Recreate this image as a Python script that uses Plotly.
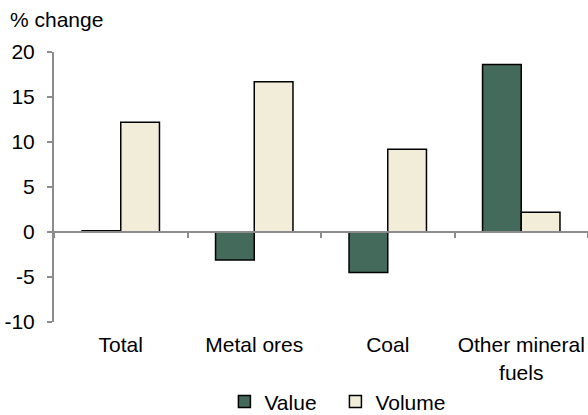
import plotly.graph_objects as go

categories = ["Total", "Metal ores", "Coal", "Other mineral<br>fuels"]
value = [0.15, -3.1, -4.5, 18.6]
volume = [12.2, 16.7, 9.2, 2.2]
y_ticks = [-10, -5, 0, 5, 10, 15, 20]
y_tick_text = ["-10", "-5", "0", "5", "10", "15", "20"]

FONT = dict(family="Liberation Sans, Arial, sans-serif", size=21, color="#000000")
AXIS_GREY = "#8c8c8c"

fig = go.Figure()
fig.add_trace(go.Bar(name="Value", x=categories, y=value,
                     marker=dict(color="#436a5a", line=dict(color="#000000", width=1.5))))
fig.add_trace(go.Bar(name="Volume", x=categories, y=volume,
                     marker=dict(color="#f2edd8", line=dict(color="#000000", width=1.5))))

fig.update_layout(
    width=588, height=415,
    margin=dict(l=54, r=0, t=52, b=93, autoexpand=False),
    paper_bgcolor="white", plot_bgcolor="white",
    font=FONT,
    barmode="group", bargap=0.42, bargroupgap=0,
    showlegend=True,
    legend=dict(orientation="h", x=0.527, xanchor="center", y=-0.296, yanchor="middle",
                font=FONT, itemwidth=30, tracegroupgap=0, entrywidth=66),
    xaxis=dict(type="category", anchor="free", position=1/3, automargin=False,
               showline=True, linecolor=AXIS_GREY, linewidth=2,
               ticks="outside", tickson="boundaries", ticklen=5, tickcolor=AXIS_GREY, tickwidth=2,
               showgrid=False, zeroline=False, ticklabelstandoff=94, tickangle=0,
               tickfont=FONT),
    yaxis=dict(range=[-10, 20], tickvals=y_ticks, ticktext=y_tick_text, automargin=False,
               showline=True, linecolor=AXIS_GREY, linewidth=2,
               ticks="outside", ticklen=5, tickcolor=AXIS_GREY, tickwidth=2,
               ticklabelstandoff=8,
               showgrid=False, zeroline=False, tickfont=FONT),
    annotations=[dict(text="% change", xref="paper", yref="paper", x=-0.087, y=1.0, yshift=33,
                      xanchor="left", yanchor="middle", showarrow=False, font=FONT)],
)

fig.write_html("out.html",
               config={"displayModeBar": False, "staticPlot": True},
               post_script="document.body.style.margin='0';document.body.style.overflow='hidden';")
